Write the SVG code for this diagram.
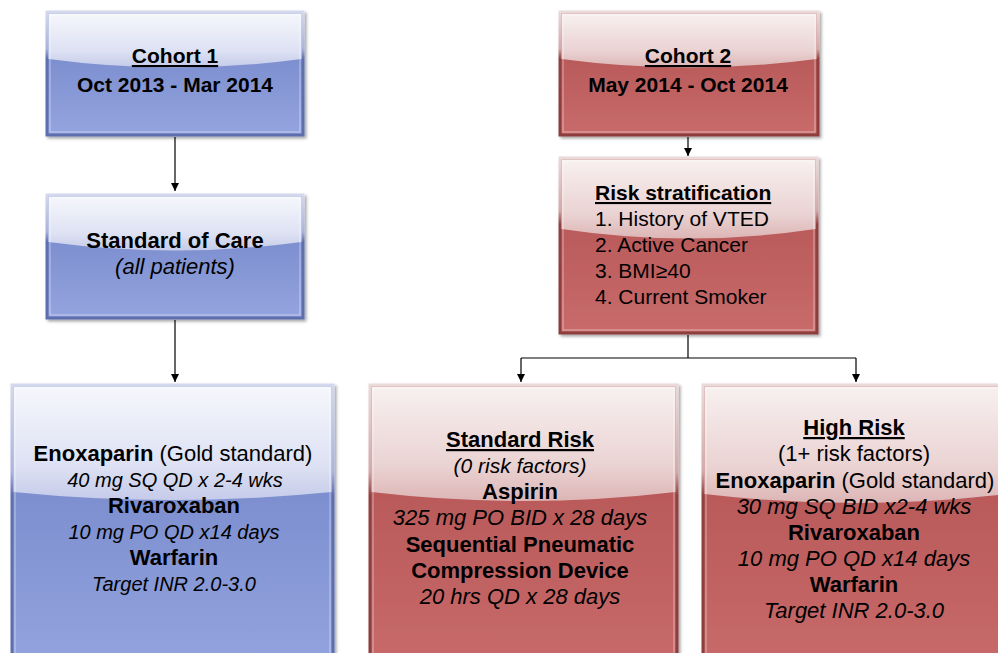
<svg xmlns="http://www.w3.org/2000/svg" width="998" height="653" viewBox="0 0 998 653">
<defs>
  <linearGradient id="blueBase" x1="0" y1="0" x2="0" y2="1">
    <stop offset="0" stop-color="#6f82c6"/>
    <stop offset="1" stop-color="#94a4df"/>
  </linearGradient>
  <linearGradient id="blueGloss" x1="0" y1="0" x2="0" y2="1">
    <stop offset="0" stop-color="#f6f7fc"/>
    <stop offset="0.7" stop-color="#dde1f3"/>
    <stop offset="1" stop-color="#c5cbe9"/>
  </linearGradient>
  <linearGradient id="blueStroke" x1="0" y1="0" x2="0" y2="1">
    <stop offset="0" stop-color="#d4d8ec"/>
    <stop offset="0.3" stop-color="#aab3dc"/>
    <stop offset="0.38" stop-color="#5f70b0"/>
    <stop offset="1" stop-color="#5d6dad"/>
  </linearGradient>
  <linearGradient id="redBase" x1="0" y1="0" x2="0" y2="1">
    <stop offset="0" stop-color="#b04f4f"/>
    <stop offset="1" stop-color="#c96b6b"/>
  </linearGradient>
  <linearGradient id="redGloss" x1="0" y1="0" x2="0" y2="1">
    <stop offset="0" stop-color="#f8f0f0"/>
    <stop offset="0.7" stop-color="#ead2d2"/>
    <stop offset="1" stop-color="#ddb5b5"/>
  </linearGradient>
  <linearGradient id="redStroke" x1="0" y1="0" x2="0" y2="1">
    <stop offset="0" stop-color="#eadada"/>
    <stop offset="0.3" stop-color="#d3a9a9"/>
    <stop offset="0.38" stop-color="#914040"/>
    <stop offset="1" stop-color="#8c3c3c"/>
  </linearGradient>
  <filter id="shadow" x="-5%" y="-5%" width="115%" height="115%">
    <feDropShadow dx="2" dy="2" stdDeviation="1.8" flood-color="#000" flood-opacity="0.35"/>
  </filter>
  <marker id="arrow" viewBox="0 0 10 10" refX="10" refY="5" markerWidth="8" markerHeight="8" markerUnits="userSpaceOnUse" orient="auto">
    <path d="M0,0 L10,5 L0,10 Z" fill="#000"/>
  </marker>
</defs>
<style>
  .blue { fill: url(#blueBase); stroke: url(#blueStroke); stroke-width: 3; filter: url(#shadow); }
  .red { fill: url(#redBase); stroke: url(#redStroke); stroke-width: 3; filter: url(#shadow); }
  .bg { fill: url(#blueGloss); }
  .rg { fill: url(#redGloss); }
  .rim { fill: none; stroke: #ffffff; stroke-opacity: 0.4; stroke-width: 1.2; }
  text { font-family: "Liberation Sans", Arial, Helvetica, sans-serif; fill: #000; }
  .c { text-anchor: middle; }
  .b { font-weight: bold; }
  .i { font-style: italic; }
  .u { text-decoration: underline; }
  .s21 { font-size: 21px; }
  .s22 { font-size: 22px; }
  .s20 { font-size: 20px; }
  .conn { stroke: #000; stroke-width: 1.2; fill: none; }
</style>

<g id="connectors">
  <line class="conn" x1="175" y1="137" x2="175" y2="191" marker-end="url(#arrow)"/>
  <line class="conn" x1="175" y1="320" x2="175" y2="382" marker-end="url(#arrow)"/>
  <line class="conn" x1="688" y1="137" x2="688" y2="156" marker-end="url(#arrow)"/>
  <line class="conn" x1="688" y1="335" x2="688" y2="358"/>
  <line class="conn" x1="521" y1="358" x2="856" y2="358"/>
  <line class="conn" x1="521" y1="358" x2="521" y2="382" marker-end="url(#arrow)"/>
  <line class="conn" x1="856" y1="358" x2="856" y2="382" marker-end="url(#arrow)"/>
</g>

<g id="cohort1">
  <rect class="blue" x="47" y="12" width="256" height="123"/>
  <path class="bg" d="M48.5,13.5 H301.5 V59 Q175,76 48.5,59 Z"/>
  <rect class="rim" x="50" y="15" width="250" height="117"/>
  <text class="c b u s21" x="175" y="63">Cohort 1</text>
  <text class="c b s21" x="175" y="92">Oct 2013 - Mar 2014</text>
</g>

<g id="standard-of-care">
  <rect class="blue" x="47" y="195" width="256" height="123"/>
  <path class="bg" d="M48.5,196.5 H301.5 V242 Q175,259 48.5,242 Z"/>
  <rect class="rim" x="50" y="198" width="250" height="117"/>
  <text class="c b s22" x="175" y="248">Standard of Care</text>
  <text class="c i s22" x="175" y="274">(all patients)</text>
</g>

<g id="cohort1-regimen">
  <rect class="blue" x="12" y="385" width="321" height="290"/>
  <path class="bg" d="M13.5,386.5 H331.5 V492 Q172,508 13.5,492 Z"/>
  <rect class="rim" x="15" y="388" width="315" height="284"/>
  <text class="c s22" x="173" y="461"><tspan class="b">Enoxaparin</tspan> (Gold standard)</text>
  <text class="c i s20" x="175" y="487">40 mg SQ QD x 2-4 wks</text>
  <text class="c b s22" x="174" y="513">Rivaroxaban</text>
  <text class="c i s20" x="174" y="539">10 mg PO QD x14 days</text>
  <text class="c b s22" x="174" y="565">Warfarin</text>
  <text class="c i s20" x="174" y="591">Target INR 2.0-3.0</text>
</g>

<g id="cohort2">
  <rect class="red" x="560" y="12" width="258" height="123"/>
  <path class="rg" d="M561.5,13.5 H816.5 V59 Q689,76 561.5,59 Z"/>
  <rect class="rim" x="563" y="15" width="252" height="117"/>
  <text class="c b u s21" x="688" y="63">Cohort 2</text>
  <text class="c b s21" x="688" y="92">May 2014 - Oct 2014</text>
</g>

<g id="risk-stratification">
  <rect class="red" x="560" y="158" width="257" height="175"/>
  <path class="rg" d="M561.5,159.5 H815.5 V229 Q688,248 561.5,229 Z"/>
  <rect class="rim" x="563" y="161" width="251" height="169"/>
  <text class="b u s21" x="595" y="200">Risk stratification</text>
  <text class="s21" x="595" y="226">1. History of VTED</text>
  <text class="s21" x="595" y="252">2. Active Cancer</text>
  <text class="s21" x="595" y="278">3. BMI≥40</text>
  <text class="s21" x="595" y="304">4. Current Smoker</text>
</g>

<g id="standard-risk">
  <rect class="red" x="370" y="385" width="307" height="290"/>
  <path class="rg" d="M371.5,386.5 H675.5 V492 Q523,510 371.5,492 Z"/>
  <rect class="rim" x="373" y="388" width="301" height="284"/>
  <text class="c b u s22" x="520" y="447">Standard Risk</text>
  <text class="c i s21" x="520" y="473">(0 risk factors)</text>
  <text class="c b s22" x="520" y="499">Aspirin</text>
  <text class="c i s22" x="520" y="525">325 mg PO BID x 28 days</text>
  <text class="c b s22" x="520" y="552">Sequential Pneumatic</text>
  <text class="c b s22" x="520" y="578">Compression Device</text>
  <text class="c i s22" x="520" y="604">20 hrs QD x 28 days</text>
</g>

<g id="high-risk">
  <rect class="red" x="703" y="385" width="305" height="290"/>
  <path class="rg" d="M704.5,386.5 H1006.5 V494 Q855,512 704.5,494 Z"/>
  <rect class="rim" x="706" y="388" width="299" height="284"/>
  <text class="c b u s22" x="854" y="435">High Risk</text>
  <text class="c s22" x="854" y="461">(1+ risk factors)</text>
  <text class="c s22" x="855" y="488"><tspan class="b">Enoxaparin</tspan> (Gold standard)</text>
  <text class="c i s22" x="854" y="514">30 mg SQ BID x2-4 wks</text>
  <text class="c b s22" x="854" y="540">Rivaroxaban</text>
  <text class="c i s22" x="854" y="566">10 mg PO QD x14 days</text>
  <text class="c b s22" x="854" y="592">Warfarin</text>
  <text class="c i s22" x="854" y="618">Target INR 2.0-3.0</text>
</g>
</svg>
